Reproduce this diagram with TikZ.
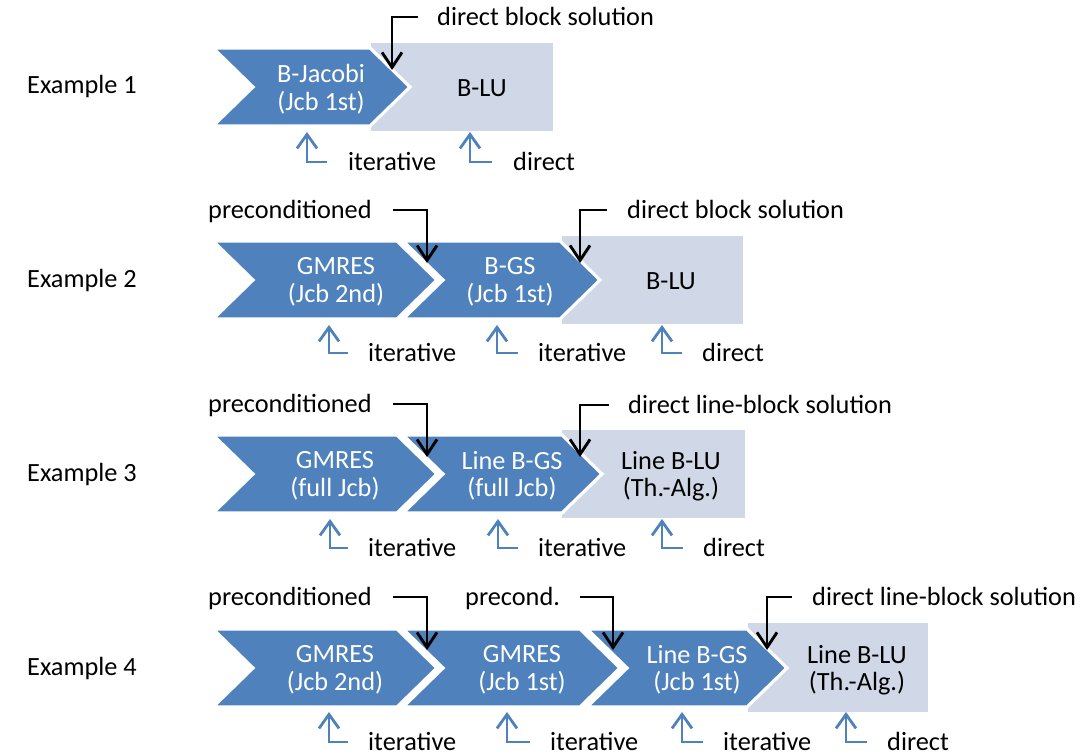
\documentclass[tikz,border=0pt]{standalone}
\usepackage{fontspec}
\setmainfont{Carlito}
\usetikzlibrary{arrows.meta}
\definecolor{chevblue}{RGB}{79,129,189}
\definecolor{solvebox}{RGB}{208,216,232}
\tikzset{
  lbl/.style={inner sep=0pt, anchor=west, text height=17pt, text depth=0pt,
    font=\fontsize{26.3}{27}\selectfont},
  stage/.style={inner sep=0pt, align=center, text=white, font=\fontsize{26.3}{27.5}\selectfont},
  solver/.style={stage, text=black},
  chev/.style={fill=chevblue, draw=white, line width=3.2pt, line join=miter},
  sbox/.style={fill=solvebox},
  callout/.style={draw=black, line width=2.9pt, -{Straight Barb[length=15pt,width=20pt]}},
  kind/.style={draw=chevblue, line width=2.8pt, -{Straight Barb[length=14pt,width=20pt]}},
}
% chevron: left edge, end of the flat top, centre line
\newcommand\chevron[3]{%
  \path[chev] (#1,#3-39) -- (#2,#3-39) -- (#2+40,#3) -- (#2,#3+39)
    -- (#1,#3+39) -- (#1+40,#3) -- cycle;}
\begin{document}
\begin{tikzpicture}[x=1pt,y=-1pt]
\useasboundingbox (0,0) rectangle (1087,754);

% ---------------- Example 1 ----------------
\node[lbl] (ex1) at (27,85) {Example 1};
\path[sbox] (371,43) rectangle (553,131);
\chevron{213}{370}{87}
\node[stage] (bjac1) at (321,89) {B-Jacobi\\(Jcb 1st)};
\node[solver] (blu1) at (482,88) {B-LU};
\node[lbl] (dbs1) at (437,17) {direct block solution};
\coordinate (dbs1end) at (392,70);
\draw[callout] ([xshift=-19pt]dbs1.west) -| (dbs1end);
\node[lbl] (it1a) at (348,162) {iterative};
\coordinate (it1atip) at (307,132);
\draw[kind] ([xshift=-21pt]it1a.west) -| (it1atip);
\node[lbl] (di1) at (513,162) {direct};
\coordinate (di1tip) at (470,132);
\draw[kind] ([xshift=-21pt]di1.west) -| (di1tip);

% ---------------- Example 2 ----------------
\node[lbl] (ex2) at (27,279) {Example 2};
\path[sbox] (562,236) rectangle (743,324);
\chevron{213}{397}{280}
\chevron{403}{560}{280}
\node[stage] (gm2) at (336,282) {GMRES\\(Jcb 2nd)};
\node[stage] (bgs2) at (510,282) {B-GS\\(Jcb 1st)};
\node[solver] (blu2) at (671,281) {B-LU};
\node[lbl] (pre2) at (208,210) {preconditioned};
\coordinate (pre2end) at (427,263);
\draw[callout] ([xshift=21pt]pre2.east) -| (pre2end);
\node[lbl] (dbs2) at (627,210) {direct block solution};
\coordinate (dbs2end) at (580,263);
\draw[callout] ([xshift=-20pt]dbs2.west) -| (dbs2end);
\node[lbl] (it2a) at (368,353) {iterative};
\coordinate (it2atip) at (329,325);
\draw[kind] ([xshift=-20pt]it2a.west) -| (it2atip);
\node[lbl] (it2b) at (538,353) {iterative};
\coordinate (it2btip) at (497,325);
\draw[kind] ([xshift=-20pt]it2b.west) -| (it2btip);
\node[lbl] (di2) at (702,353) {direct};
\coordinate (di2tip) at (662,325);
\draw[kind] ([xshift=-20pt]di2.west) -| (di2tip);

% ---------------- Example 3 ----------------
\node[lbl] (ex3) at (27,473) {Example 3};
\path[sbox] (562,430) rectangle (745,518);
\chevron{213}{397}{474}
\chevron{403}{562}{474}
\node[stage] (gm3) at (335,476) {GMRES\\(full Jcb)};
\node[stage] (lgs3) at (512,476) {Line B-GS\\(full Jcb)};
\node[solver] (llu3) at (671,476) {Line B-LU\\(Th.-Alg.)};
\node[lbl] (pre3) at (208,404) {preconditioned};
\coordinate (pre3end) at (427,457);
\draw[callout] ([xshift=21pt]pre3.east) -| (pre3end);
\node[lbl] (dls3) at (628,405) {direct line-block solution};
\coordinate (dls3end) at (580,457);
\draw[callout] ([xshift=-19pt]dls3.west) -| (dls3end);
\node[lbl] (it3a) at (368,548) {iterative};
\coordinate (it3atip) at (330,519);
\draw[kind] ([xshift=-20pt]it3a.west) -| (it3atip);
\node[lbl] (it3b) at (538,548) {iterative};
\coordinate (it3btip) at (498,519);
\draw[kind] ([xshift=-20pt]it3b.west) -| (it3btip);
\node[lbl] (di3) at (703,548) {direct};
\coordinate (di3tip) at (662,519);
\draw[kind] ([xshift=-20pt]di3.west) -| (di3tip);

% ---------------- Example 4 ----------------
\node[lbl] (ex4) at (27,667) {Example 4};
\path[sbox] (748,623) rectangle (928,712);
\chevron{213}{397}{668}
\chevron{403}{580}{668}
\chevron{587}{747}{668}
\node[stage] (gm4a) at (335,670) {GMRES\\(Jcb 2nd)};
\node[stage] (gm4b) at (522,670) {GMRES\\(Jcb 1st)};
\node[stage] (lgs4) at (697,670) {Line B-GS\\(Jcb 1st)};
\node[solver] (llu4) at (857,670) {Line B-LU\\(Th.-Alg.)};
\node[lbl] (pre4) at (208,597) {preconditioned};
\coordinate (pre4end) at (427,650);
\draw[callout] ([xshift=21pt]pre4.east) -| (pre4end);
\node[lbl] (pc4) at (465,597) {precond.};
\coordinate (pc4end) at (613,650);
\draw[callout] ([xshift=20pt]pc4.east) -| (pc4end);
\node[lbl] (dls4) at (812,597) {direct line-block solution};
\coordinate (dls4end) at (767,650);
\draw[callout] ([xshift=-20pt]dls4.west) -| (dls4end);
\node[lbl] (it4a) at (368,742) {iterative};
\coordinate (it4atip) at (329,712);
\draw[kind] ([xshift=-20pt]it4a.west) -| (it4atip);
\node[lbl] (it4b) at (550,742) {iterative};
\coordinate (it4btip) at (507,712);
\draw[kind] ([xshift=-20pt]it4b.west) -| (it4btip);
\node[lbl] (it4c) at (723,742) {iterative};
\coordinate (it4ctip) at (682,712);
\draw[kind] ([xshift=-20pt]it4c.west) -| (it4ctip);
\node[lbl] (di4) at (887,742) {direct};
\coordinate (di4tip) at (846,712);
\draw[kind] ([xshift=-20pt]di4.west) -| (di4tip);
\end{tikzpicture}
\end{document}
